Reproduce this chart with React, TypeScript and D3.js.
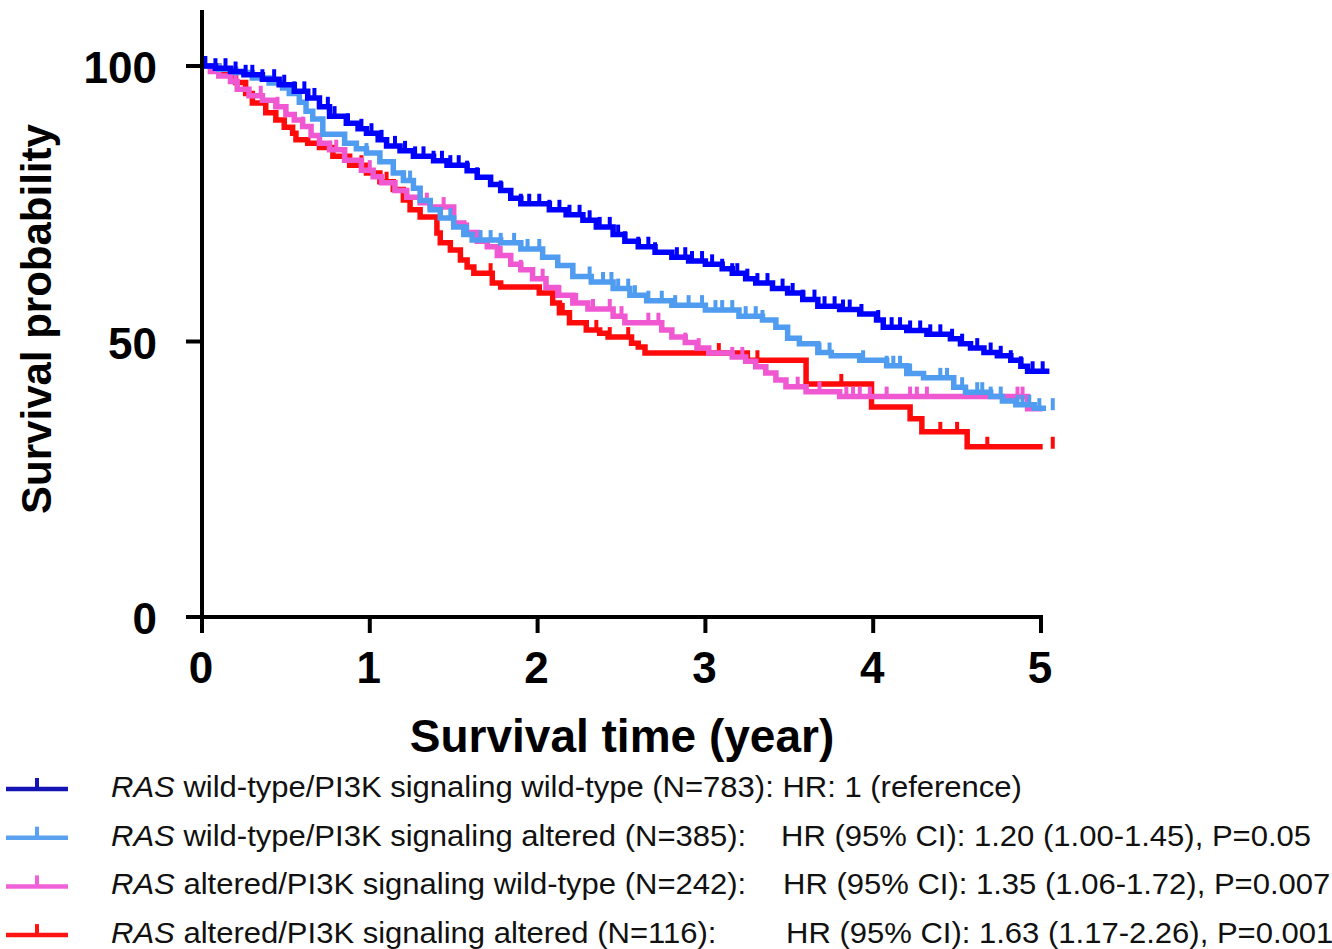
import React from "react";
import * as d3 from "d3";

// chart size and plot box (pixels)
const W = 1332;
const H = 949;
const PLOT = { left: 202, right: 1041, top: 66, bottom: 617 };
const FONT = "'Liberation Sans', Arial, Helvetica, sans-serif";

const xTicks = [0, 1, 2, 3, 4, 5];
const yTicks = [0, 50, 100];

const groupNames = ["wtwt", "wtalt", "altwt", "altalt"];
const groupColors = ["#0000ff", "#4f9cf0", "#f058d2", "#ff0a0a"];
const legendColors = ["#1414b4", "#5aa2f0", "#f060d8", "#ff1414"];

// Kaplan-Meier steps: [year, survival %]
const wtwtSteps = [
  [0, 100], [0.08, 99.6], [0.17, 99.0], [0.25, 98.4], [0.36, 97.6], [0.46, 96.6], [0.55, 95.4],
  [0.63, 94.2], [0.7, 92.6], [0.76, 90.9], [0.86, 89.6], [0.93, 88.6], [0.98, 87.8], [1.05, 86.6],
  [1.1, 85.5], [1.18, 84.6], [1.26, 83.6], [1.38, 82.8], [1.46, 82.0], [1.58, 81.0], [1.64, 79.8],
  [1.72, 78.5], [1.78, 77.4], [1.84, 76.0], [1.9, 75.0], [2.07, 73.9], [2.17, 73.0], [2.27, 72.0],
  [2.35, 70.8], [2.45, 69.4], [2.52, 68.2], [2.6, 67.2], [2.7, 66.2], [2.8, 65.3], [2.9, 64.6],
  [3.0, 64.0], [3.1, 63.2], [3.16, 62.4], [3.24, 61.4], [3.3, 60.6], [3.4, 59.6], [3.49, 58.8],
  [3.58, 57.6], [3.67, 56.4], [3.8, 55.8], [3.92, 55.0], [4.02, 53.9], [4.06, 52.6], [4.2, 52.0],
  [4.32, 51.3], [4.46, 50.5], [4.52, 49.6], [4.58, 48.8], [4.66, 48.0], [4.74, 47.4], [4.82, 46.6],
  [4.88, 45.5], [4.92, 44.6],
];
const wtaltSteps = [
  [0, 100], [0.1, 99.4], [0.2, 98.8], [0.3, 97.8], [0.4, 96.9], [0.48, 96.0], [0.52, 95.0],
  [0.58, 93.4], [0.62, 91.8], [0.66, 90.4], [0.72, 87.6], [0.85, 86.0], [0.92, 85.0], [0.98, 84.2],
  [1.06, 82.6], [1.14, 80.6], [1.2, 79.2], [1.26, 77.8], [1.3, 75.6], [1.36, 73.9], [1.42, 72.4],
  [1.5, 70.8], [1.56, 69.4], [1.61, 68.4], [1.78, 67.9], [1.9, 66.8], [2.03, 65.3], [2.12, 63.8],
  [2.21, 61.8], [2.32, 60.8], [2.45, 59.6], [2.55, 58.4], [2.65, 57.4], [2.8, 56.6], [3.0, 55.7],
  [3.2, 54.6], [3.34, 53.9], [3.42, 52.6], [3.49, 50.6], [3.56, 49.6], [3.67, 48.0], [3.75, 47.4],
  [3.92, 46.6], [4.08, 45.6], [4.2, 44.2], [4.3, 43.4], [4.48, 41.7], [4.55, 40.8], [4.7, 40.0],
  [4.77, 39.2], [4.85, 38.5], [4.96, 37.9],
];
const altwtSteps = [
  [0, 100], [0.05, 99.0], [0.1, 98.2], [0.17, 97.2], [0.21, 95.8], [0.28, 94.6], [0.36, 93.8],
  [0.44, 92.6], [0.5, 91.2], [0.55, 90.2], [0.6, 89.0], [0.65, 87.4], [0.7, 86.0], [0.76, 84.8],
  [0.85, 82.9], [0.95, 81.1], [1.02, 79.9], [1.07, 78.8], [1.15, 77.4], [1.22, 76.2], [1.3, 75.2],
  [1.36, 74.4], [1.5, 71.5], [1.56, 69.8], [1.64, 68.2], [1.7, 67.2], [1.76, 65.6], [1.84, 64.0],
  [1.9, 63.0], [1.97, 61.4], [2.05, 59.8], [2.12, 58.4], [2.21, 57.0], [2.3, 55.9], [2.45, 54.6],
  [2.52, 53.4], [2.74, 52.1], [2.8, 50.8], [2.88, 49.8], [2.95, 48.8], [3.02, 47.9], [3.16, 47.2],
  [3.24, 46.4], [3.3, 45.4], [3.36, 44.3], [3.42, 43.0], [3.48, 41.8], [3.6, 40.9], [3.8, 40.0],
  [4.92, 37.8],
];
const altaltSteps = [
  [0, 100], [0.1, 98.8], [0.2, 97.0], [0.26, 95.0], [0.3, 93.3], [0.38, 91.5], [0.44, 90.2],
  [0.49, 88.9], [0.54, 87.8], [0.56, 86.6], [0.63, 86.0], [0.7, 85.2], [0.78, 83.6], [0.88, 82.0],
  [0.98, 80.6], [1.06, 79.0], [1.14, 77.6], [1.2, 75.7], [1.24, 73.9], [1.3, 72.6], [1.4, 69.7],
  [1.42, 67.9], [1.48, 66.6], [1.54, 64.8], [1.58, 63.5], [1.62, 62.4], [1.73, 60.6], [1.78, 59.9],
  [2.01, 58.8], [2.09, 57.0], [2.13, 55.2], [2.19, 53.4], [2.29, 52.1], [2.37, 51.5], [2.42, 50.8],
  [2.56, 49.7], [2.6, 49.0], [2.64, 47.9], [3.25, 46.6], [3.6, 42.3], [3.99, 38.1], [4.22, 36.0],
  [4.29, 33.6], [4.56, 30.9],
];
const lastTimes = [5.05, 5.03, 5.01, 5.01];

// censored observations (year)
const wtwtCensor = [
  0.02, 0.08, 0.14, 0.2, 0.26, 0.3, 0.36, 0.43, 0.49, 0.55, 0.61, 0.67, 0.75, 0.79, 0.87, 0.95,
  1.01, 1.07, 1.15, 1.21, 1.27, 1.32, 1.38, 1.43, 1.48, 1.53, 1.58, 1.64, 1.78, 1.84, 1.9, 1.95,
  2.01, 2.07, 2.13, 2.19, 2.25, 2.31, 2.37, 2.43, 2.48, 2.52, 2.6, 2.66, 2.7, 2.83, 2.88, 2.92,
  2.98, 3.04, 3.1, 3.16, 3.19, 3.25, 3.31, 3.37, 3.46, 3.52, 3.58, 3.65, 3.71, 3.77, 3.82, 3.86,
  3.93, 4.03, 4.11, 4.16, 4.22, 4.28, 4.34, 4.4, 4.47, 4.53, 4.62, 4.7, 4.76, 4.82, 4.88, 4.95, 5.01,
];
const wtaltCensor = [
  0.98, 1.06, 1.14, 1.2, 1.24, 1.3, 1.48, 1.58, 1.66, 1.72, 1.78, 1.86, 1.94, 2.01, 2.12, 2.21,
  2.31, 2.39, 2.44, 2.48, 2.54, 2.58, 2.66, 2.74, 2.82, 2.9, 2.98, 3.06, 3.1, 3.16, 3.24, 3.3,
  3.34, 3.68, 3.74, 3.94, 4.08, 4.12, 4.16, 4.22, 4.4, 4.44, 4.53, 4.62, 4.65, 4.7, 4.76, 4.86,
  4.89, 4.93, 4.99, 5.07,
];
const altwtCensor = [
  0.1, 0.2, 0.35, 0.45, 0.6, 0.8, 1.0, 1.15, 1.34, 1.44, 1.58, 1.78, 1.84, 1.9, 2.03, 2.13, 2.23,
  2.33, 2.43, 2.5, 2.66, 2.72, 2.88, 2.96, 3.16, 3.22, 3.55, 3.68, 3.84, 3.88, 3.92, 3.98, 4.08,
  4.22, 4.26, 4.32, 4.86, 4.89,
];
const altaltCensor = [0.95, 1.1, 1.72, 2.15, 2.35, 2.43, 2.54, 3.08, 3.31, 3.81, 4.4, 4.5, 4.68, 5.07];

const legendLabels = [
  " wild-type/PI3K signaling wild-type (N=783): HR: 1 (reference)",
  " wild-type/PI3K signaling altered (N=385):",
  " altered/PI3K signaling wild-type (N=242):",
  " altered/PI3K signaling altered (N=116):",
];
const hrTexts = [
  "",
  "HR (95% CI): 1.20 (1.00-1.45), P=0.05",
  "HR (95% CI): 1.35 (1.06-1.72), P=0.007",
  "HR (95% CI): 1.63 (1.17-2.26), P=0.001",
];
const hrX = [0, 781, 783, 786];

const allSteps = [wtwtSteps, wtaltSteps, altwtSteps, altaltSteps];
const allCensor = [wtwtCensor, wtaltCensor, altwtCensor, altaltCensor];

const xScale = d3.scaleLinear().domain([0, 5]).range([PLOT.left, PLOT.right]);
const yScale = d3.scaleLinear().domain([0, 100]).range([PLOT.bottom, PLOT.top]);

function survAt(steps: number[][], t: number) {
  let s = steps[0][1];
  for (const p of steps) {
    if (p[0] <= t) s = p[1];
  }
  return s;
}

const LEG_FS = 29;
const LEG_SX = 1.07;

export default function App() {
  const line = d3
    .line<number[]>()
    .x((d) => xScale(d[0]))
    .y((d) => yScale(d[1]))
    .curve(d3.curveStepAfter);

  // draw bottom to top: red, pink, light blue, blue
  const order = [3, 2, 1, 0];

  return (
    <div style={{ position: "absolute", left: 0, top: 0 }}>
      <svg width={W} height={H} style={{ display: "block", background: "#fff" }}>
        {/* curves */}
        {order.map((i) => {
          const steps = allSteps[i];
          const pts = [...steps, [lastTimes[i], steps[steps.length - 1][1]]];
          return (
            <g key={groupNames[i]}>
              <path d={line(pts) || ""} fill="none" stroke={groupColors[i]} strokeWidth={5.5} />
              {allCensor[i].map((t, k) => {
                const cy = yScale(survAt(steps, t));
                const cx = xScale(t);
                return (
                  <line
                    key={k}
                    x1={cx}
                    x2={cx}
                    y1={cy + 2}
                    y2={cy - 10}
                    stroke={groupColors[i]}
                    strokeWidth={4}
                  />
                );
              })}
            </g>
          );
        })}

        {/* axes */}
        <line x1={PLOT.left} x2={PLOT.left} y1={10} y2={PLOT.bottom + 2} stroke="#000" strokeWidth={4} />
        <line x1={PLOT.left - 2} x2={PLOT.right + 2} y1={PLOT.bottom} y2={PLOT.bottom} stroke="#000" strokeWidth={4} />
        {yTicks.map((v) => (
          <g key={"y" + v}>
            <line x1={PLOT.left - 16} x2={PLOT.left} y1={yScale(v)} y2={yScale(v)} stroke="#000" strokeWidth={4} />
            <text
              x={157}
              y={yScale(v) + 17}
              textAnchor="end"
              fontFamily={FONT}
              fontWeight="bold"
              fontSize={44}
            >
              {v}
            </text>
          </g>
        ))}
        {xTicks.map((v) => (
          <g key={"x" + v}>
            <line x1={xScale(v)} x2={xScale(v)} y1={PLOT.bottom} y2={PLOT.bottom + 16} stroke="#000" strokeWidth={4} />
            <text
              x={xScale(v) - 1}
              y={683}
              textAnchor="middle"
              fontFamily={FONT}
              fontWeight="bold"
              fontSize={44}
            >
              {v}
            </text>
          </g>
        ))}

        <text x={622} y={752} textAnchor="middle" fontFamily={FONT} fontWeight="bold" fontSize={46}>
          Survival time (year)
        </text>
        <text
          transform="translate(51,319) rotate(-90)"
          textAnchor="middle"
          fontFamily={FONT}
          fontWeight="bold"
          fontSize={42}
        >
          Survival probability
        </text>

        {/* legend */}
        {legendLabels.map((lab, i) => {
          const ly = 789 + i * 48.7;
          const by = ly + 8;
          return (
            <g key={"lg" + i}>
              <line x1={6} x2={68} y1={ly} y2={ly} stroke={legendColors[i]} strokeWidth={4.5} />
              <line x1={37} x2={37} y1={ly} y2={ly - 11} stroke={legendColors[i]} strokeWidth={4} />
              <text
                transform={`translate(111,${by}) scale(${LEG_SX},1)`}
                fontFamily={FONT}
                fontSize={LEG_FS}
                fill="#111"
              >
                <tspan fontStyle="italic">RAS</tspan>
                {lab}
              </text>
              {hrTexts[i] && (
                <text
                  transform={`translate(${hrX[i]},${by}) scale(${LEG_SX},1)`}
                  fontFamily={FONT}
                  fontSize={LEG_FS}
                  fill="#111"
                >
                  {hrTexts[i]}
                </text>
              )}
            </g>
          );
        })}
      </svg>
    </div>
  );
}
